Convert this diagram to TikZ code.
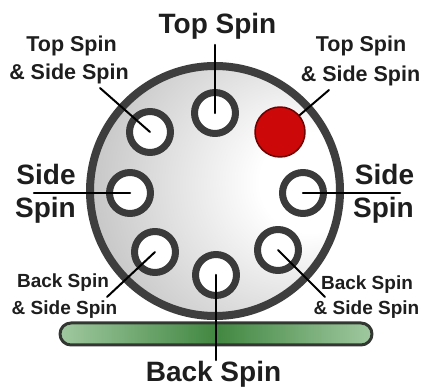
\documentclass[tikz,border=0pt]{standalone}
\usepackage{fontspec}
\setmainfont{Liberation Sans}
\definecolor{rimgray}{RGB}{62,62,62}
\definecolor{ringgray}{RGB}{58,58,58}
\definecolor{balldot}{RGB}{205,8,8}
\definecolor{dotedge}{RGB}{110,0,0}
\definecolor{padlight}{RGB}{160,200,160}
\definecolor{paddark}{RGB}{65,135,65}
\definecolor{padedge}{RGB}{50,55,50}
\definecolor{labelgray}{RGB}{30,30,30}
\pgfdeclareradialshading{ballshade}{\pgfpoint{22bp}{2bp}}{color(0bp)=(white);color(10bp)=(white);color(72bp)=(gray!105!white)}
\begin{document}
\begin{tikzpicture}[x=1pt,y=-1pt,line cap=round,line join=round,
	hole/.style={circle,draw=ringgray,line width=7pt,fill=white,minimum size=41pt,inner sep=0pt},
	bigtxt/.style={font=\fontsize{28}{30}\selectfont\bfseries,text=labelgray,inner sep=0pt,anchor=base},
	toptxt/.style={font=\fontsize{21.5}{24}\selectfont\bfseries,text=labelgray,inner sep=0pt,anchor=base},
	lowtxt/.style={font=\fontsize{19}{22}\selectfont\bfseries,text=labelgray,inner sep=0pt,anchor=base},
	leader/.style={draw=black,line width=2.5pt},
	thinleader/.style={draw=black,line width=2pt}]
			\useasboundingbox (0,0) rectangle (424,387);
			
			% quả bóng
			\node[circle,minimum size=250pt,inner sep=0pt,draw=rimgray,line width=8pt,shade,shading=ballshade] (ball) at (215,191) {};
			
			% vợt
			\node[rectangle,rounded corners=11pt,minimum width=312pt,minimum height=22pt,inner sep=0pt,draw=padedge,line width=3pt,left color=padlight,right color=padlight,middle color=paddark] (paddle) at (216,334) {};
			
			% các điểm đánh
			\node[hole] (top) at (215,113) {};
			\node[hole] (tl) at (150,132) {};
			\node[hole] (left) at (130,193) {};
			\node[hole] (right) at (303,193) {};
			\node[hole] (bl) at (155,252) {};
			\node[hole] (br) at (278,250) {};
			\node[hole] (bottom) at (216,275) {};
			\node[circle,minimum size=50pt,inner sep=0pt,fill=balldot,draw=dotedge,line width=1.5pt] (red) at (280,132) {};
			
			% chữ
			\node[bigtxt] (toplab) at (217.5,34) {Top Spin};
			\node[bigtxt] (backlab) at (213.5,382) {Back Spin};
			\node[bigtxt] (lside) at (46,185) {Side};
			\node[bigtxt] (lspin) at (45.5,218) {Spin};
			\node[bigtxt] (rside) at (384.5,185) {Side};
			\node[bigtxt] (rspin) at (383.5,218) {Spin};
			\node[toptxt] (tltop) at (71.5,52) {Top Spin};
			\node[toptxt] (tlside) at (69,80) {\& Side Spin};
			\node[toptxt] (trtop) at (361,52) {Top Spin};
			\node[toptxt] (trside) at (360.5,82) {\& Side Spin};
			\node[lowtxt] (blback) at (63,288) {Back Spin};
			\node[lowtxt] (blside) at (64.5,315) {\& Side Spin};
			\node[lowtxt] (brback) at (367,290) {Back Spin};
			\node[lowtxt] (brside) at (366.5,315) {\& Side Spin};
			
			% đường chỉ
			\coordinate (topend) at (215,45);
			\coordinate (tlend) at (100,88);
			\coordinate (trend) at (329,90);
			\coordinate (lend) at (34,193);
			\coordinate (rend) at (400,193);
			\coordinate (blend) at (107,297);
			\coordinate (brend) at (325,297);
			\coordinate (botend) at (216,360);
			\draw[leader] (topend) -- (top.center);
			\draw[thinleader] (tlend) -- (tl.center);
			\draw[thinleader] (trend) -- (red);
			\draw[leader] (lend) -- (left.center);
			\draw[leader] (rend) -- (right.center);
			\draw[thinleader] (blend) -- (bl.center);
			\draw[thinleader] (brend) -- (br.center);
			\draw[leader] (botend) -- (bottom.center);
\end{tikzpicture}
\end{document}
